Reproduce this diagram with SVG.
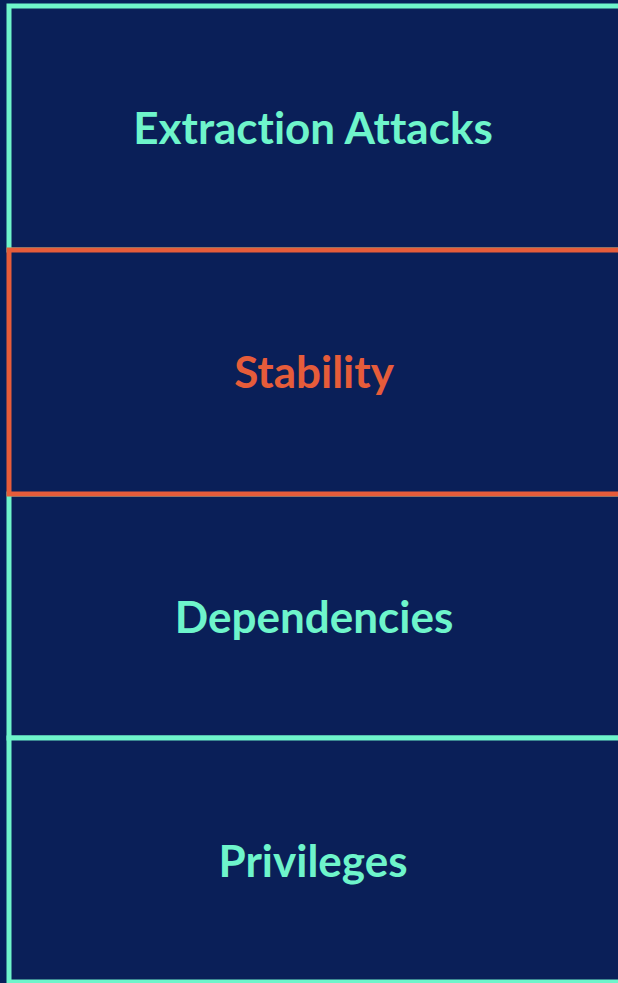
<svg xmlns="http://www.w3.org/2000/svg" width="618" height="983" viewBox="0 0 618 983">
  <style>
    .box { fill: #0a1f58; stroke-width: 5; }
    .teal { stroke: #6ef5cb; }
    .orange { stroke: #e65c3a; }
    .label { font-family: Lato, "Open Sans", "Liberation Sans", sans-serif; font-weight: bold; font-size: 44px; text-anchor: middle; font-variant-ligatures: none; }
    .label.teal { fill: #6ef5cb; stroke: none; }
    .label.orange { fill: #e65c3a; stroke: none; }
  </style>
  <rect x="0" y="0" width="618" height="983" fill="#06205a"/>
  <g id="extraction-attacks">
    <rect class="box teal" x="9" y="6" width="614" height="244"/>
    <text class="label teal" x="313" y="144">Extraction Attacks</text>
  </g>
  <g id="dependencies">
    <rect class="box teal" x="9" y="494" width="614" height="244"/>
    <text class="label teal" x="314" y="633">Dependencies</text>
  </g>
  <g id="privileges">
    <rect class="box teal" x="9" y="738" width="614" height="244"/>
    <text class="label teal" x="313" y="877">Privileges</text>
  </g>
  <g id="stability">
    <rect class="box orange" x="9" y="250" width="614" height="244"/>
    <text class="label orange" x="314" y="388">Stability</text>
  </g>
  <g id="connectors"></g>
</svg>
